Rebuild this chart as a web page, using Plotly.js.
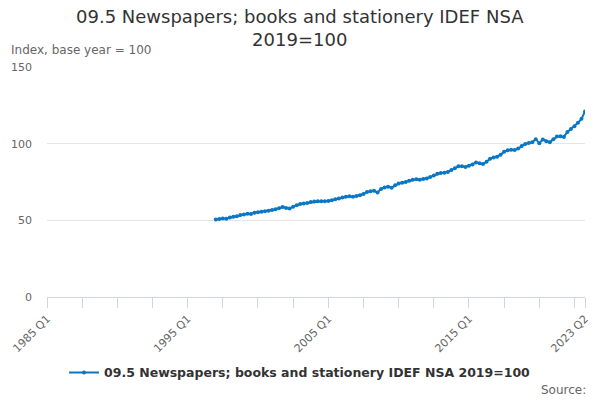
<!DOCTYPE html>
<html>
<head>
<meta charset="utf-8">
<script src="https://cdn.plot.ly/plotly-3.0.1.min.js"></script>
<style>html,body{margin:0;padding:0;background:#fff;}#chart{width:600px;height:400px;}</style>
</head>
<body>
<div id="chart"></div>
<script>
// All quarters shown on the axis: 1985 Q1 .. 2023 Q2
var firstYear = 1985, lastYear = 2023, lastQuarter = 2;
var quarters = [];
for (var y = firstYear; y <= lastYear; y++) {
  for (var q = 1; q <= 4; q++) {
    if (y === lastYear && q > lastQuarter) break;
    quarters.push(y + " Q" + q);
  }
}
// Series starts 1997 Q1
var seriesStart = "1997 Q1";
var seriesName = "09.5 Newspapers; books and stationery IDEF NSA 2019=100";
var chartTitle = "09.5 Newspapers; books and stationery IDEF NSA<br>2019=100";
var values = [
  50.5, 50.9, 51.2, 51.0, 51.8, 52.3, 52.6, 53.4, 53.8, 54.3,
  54.1, 55.0, 55.3, 55.6, 56.0, 56.2, 56.7, 57.3, 57.9, 58.7,
  58.1, 57.7, 58.9, 59.8, 60.6, 61.0, 61.3, 61.9, 62.3, 62.4,
  62.5, 62.4, 62.6, 63.1, 63.7, 64.3, 64.9, 65.4, 65.7, 65.3,
  65.8, 66.4, 67.2, 68.5, 69.0, 69.3, 68.2, 70.5, 71.4, 71.9,
  71.3, 72.8, 74.0, 74.5, 75.0, 75.8, 76.5, 76.8, 76.4, 76.9,
  77.3, 78.2, 79.2, 80.3, 80.9, 81.1, 81.6, 82.8, 84.0, 85.3,
  85.2, 84.8, 85.6, 86.4, 87.7, 87.2, 86.7, 88.2, 90.2, 91.0,
  91.5, 92.7, 94.8, 95.7, 96.0, 95.9, 96.8, 98.4, 99.8, 100.5,
  100.9, 102.9, 100.2, 102.7, 101.6, 101.0, 102.8, 104.6, 104.9, 104.4,
  107.6, 109.6, 111.4, 113.6, 116.2, 121.0
];
var startIdx = quarters.indexOf(seriesStart);
var xData = quarters.slice(startIdx, startIdx + values.length);

var labelledTicks = ["1985 Q1", "1995 Q1", "2005 Q1", "2015 Q1", "2023 Q2"];
var tickVals = [], tickText = [];
for (var i = 0; i < quarters.length; i += 10) tickVals.push(quarters[i]);
tickVals.push(quarters[quarters.length - 1]);
tickVals.forEach(function (t) { tickText.push(labelledTicks.indexOf(t) >= 0 ? t : ""); });

var yTicks = [0, 50, 100, 150];

var color = "#0a77c4";
var trace = {
  x: xData, y: values, type: "scatter", mode: "lines+markers",
  name: seriesName,
  line: {color: color, width: 2},
  marker: {color: color, size: 4, symbol: "circle"}
};

var font = "DejaVu Sans, sans-serif";
var layout = {
  width: 600, height: 400,
  margin: {l: 47, r: 15, t: 67, b: 103},
  paper_bgcolor: "#fff", plot_bgcolor: "#fff",
  font: {family: font, color: "#666"},
  xaxis: {
    type: "category",
    categoryorder: "array", categoryarray: quarters,
    range: [0, quarters.length - 1],
    tickmode: "array", tickvals: tickVals, ticktext: tickText,
    tickangle: -45, ticks: "outside", ticklen: 10, tickcolor: "#ccd6eb", tickwidth: 1,
    tickfont: {family: font, size: 11, color: "#666"},
    showline: true, linecolor: "#ccd6eb", linewidth: 1,
    showgrid: false, zeroline: false, fixedrange: true
  },
  yaxis: {
    range: [0, 150], tickmode: "array", tickvals: yTicks,
    showgrid: true, gridcolor: "#e6e6e6", gridwidth: 1,
    zeroline: false, showline: false, ticks: "",
    tickfont: {family: font, size: 11, color: "#666"},
    ticklabelstandoff: 14, fixedrange: true
  },
  showlegend: true,
  legend: {
    orientation: "h", xref: "container", x: 0.5, xanchor: "center",
    yref: "container", y: 0.068, yanchor: "middle",
    font: {family: font, size: 12.5, color: "#333", weight: "bold"}
  },
  annotations: [
    {text: chartTitle, xref: "paper", yref: "paper", x: 0.4706, y: 1,
     xanchor: "center", yanchor: "bottom", yshift: 15, showarrow: false, align: "center",
     font: {family: font, size: 18, color: "#333"}},
    {text: "Index, base year = 100", xref: "paper", yref: "paper", x: 0, y: 1,
     xanchor: "left", yanchor: "bottom", xshift: -38, yshift: 8, showarrow: false,
     font: {family: font, size: 12, color: "#666"}},
    {text: "Source:", xref: "paper", yref: "paper", x: 1.006, y: -0.404,
     xanchor: "right", yanchor: "middle", showarrow: false,
     font: {family: font, size: 12, color: "#666"}}
  ]
};

Plotly.newPlot("chart", [trace], layout, {displayModeBar: false, staticPlot: true});
</script>
</body>
</html>
